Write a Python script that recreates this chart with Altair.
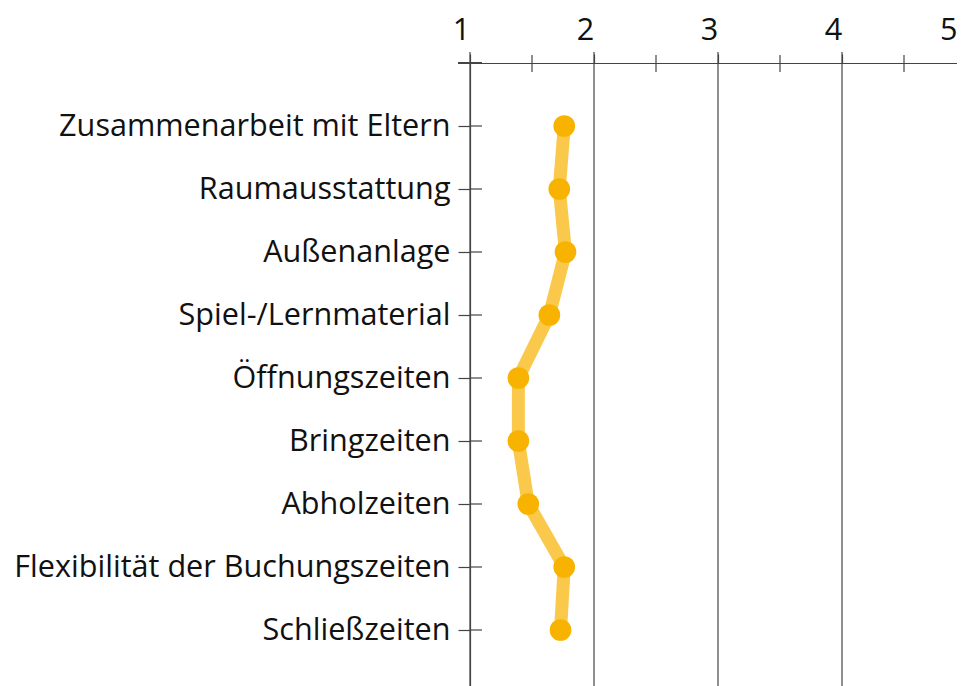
import altair as alt
import pandas as pd

categories = ["Zusammenarbeit mit Eltern", "Raumausstattung", "Außenanlage",
              "Spiel-/Lernmaterial", "Öffnungszeiten", "Bringzeiten",
              "Abholzeiten", "Flexibilität der Buchungszeiten", "Schließzeiten"]
values = [1.76, 1.72, 1.77, 1.64, 1.39, 1.39, 1.47, 1.76, 1.73]
tick_values = [1, 1.5, 2, 2.5, 3, 3.5, 4, 4.5, 5]
grid_values = [1, 2, 3, 4, 5]
minor_values = [1.5, 2.5, 3.5, 4.5]

FONT = "Open Sans"
FS = 30.6
AX = "#444444"

df = pd.DataFrame({"cat": categories, "val": values, "order": list(range(len(categories)))})
grid_df = pd.DataFrame({"g": grid_values})
minor_df = pd.DataFrame({"m": minor_values})

xscale = alt.Scale(domain=[1, 5], nice=False, zero=False, range=[0, 496])
yscale = alt.Scale(type="point", domain=categories, padding=1, range=[0, 630])

X_AX = alt.Axis(orient="top", values=tick_values, format="d", tickSize=9, tickColor=AX,
                tickWidth=1.2, domainColor=AX, domainWidth=1.2, grid=False,
                labelExpr="datum.value % 1 == 0 ? datum.label : ''",
                labelFont=FONT, labelFontSize=FS, labelColor="#111111",
                labelPadding=9, labelOffset=-9, labelFlush=False,
                labelAlign=alt.condition("datum.value == 5", alt.value("right"), alt.value("center")),
                title=None)
Y_AX = alt.Axis(orient="left", tickSize=12, tickColor=AX, tickWidth=1.2,
                domainColor=AX, domainWidth=1.2, labelFont=FONT,
                labelFontSize=FS, labelColor="#111111", labelPadding=8,
                labelLimit=600, title=None)

base = alt.Chart(df)

grid = alt.Chart(grid_df).mark_rule(color=AX, strokeWidth=1.2).encode(
    x=alt.X("g:Q", scale=xscale, axis=X_AX),
    y=alt.value(-11), y2=alt.value(640))

minor = alt.Chart(minor_df).mark_rule(color=AX, strokeWidth=1.2).encode(
    x=alt.X("m:Q", scale=xscale, axis=X_AX),
    y=alt.value(-8), y2=alt.value(9))

ytick_right = base.mark_rule(color=AX, strokeWidth=1.2).encode(
    y=alt.Y("cat:N", scale=yscale, axis=Y_AX),
    x=alt.value(0), x2=alt.value(12))

corner = alt.Chart(grid_df).mark_rule(color=AX, strokeWidth=1.2).encode(
    y=alt.value(0), x=alt.value(-12), x2=alt.value(12))

line = base.mark_line(color="#FAC94B", strokeWidth=13, strokeJoin="round").encode(
    x=alt.X("val:Q", scale=xscale, axis=X_AX),
    y=alt.Y("cat:N", scale=yscale, axis=Y_AX),
    order="order:O")

points = base.mark_circle(color="#F8B300", opacity=1, size=470).encode(
    x=alt.X("val:Q", scale=xscale, axis=X_AX),
    y=alt.Y("cat:N", scale=yscale, axis=Y_AX))

chart = alt.layer(grid, minor, ytick_right, corner, line, points).properties(
    width=487, height=623,
    autosize=alt.AutoSizeParams(type="none"),
    padding={"left": 462, "top": 55, "right": 0, "bottom": 0},
).configure_view(stroke=None)

chart.save("out.html", embed_options={"renderer": "svg", "actions": False})
